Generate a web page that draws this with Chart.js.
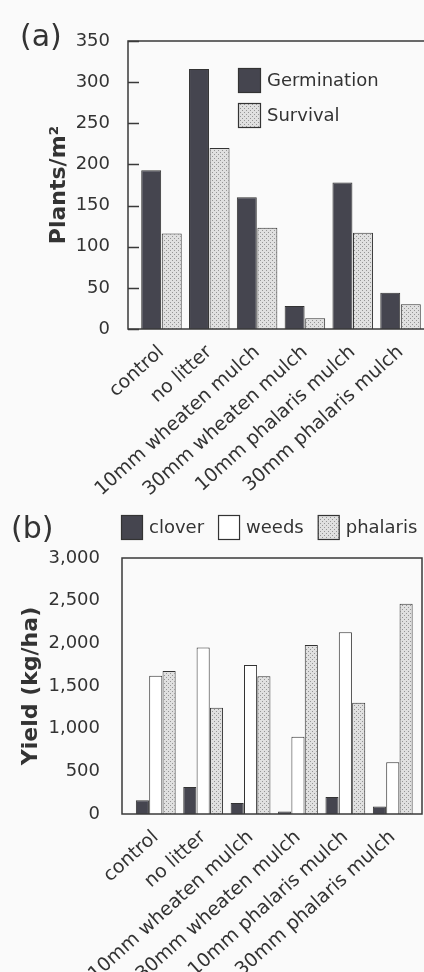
<!DOCTYPE html>
<html>
<head>
<meta charset="utf-8">
<script src="https://cdn.jsdelivr.net/npm/chart.js@4.4.1/dist/chart.umd.min.js"></script>
<style>
  html, body { margin: 0; padding: 0; background: #fafafa; overflow: hidden; width: 424px; height: 972px; }
  canvas { position: absolute; left: 0; }
  #chartA { top: 0; }
  #chartB { top: 495px; }
</style>
</head>
<body>
<canvas id="chartA" width="440" height="495"></canvas>
<canvas id="chartB" width="424" height="477"></canvas>
<script>
// treatments, same order in both panels
var categories = ['control', 'no litter', '10mm wheaten mulch', '30mm wheaten mulch', '10mm phalaris mulch', '30mm phalaris mulch'];

// (a) plants per m2
var germination = [193, 316, 160, 28, 178, 44];
var survival = [116, 220, 123, 13, 117, 30];
var yTicksA = [0, 50, 100, 150, 200, 250, 300, 350];

// (b) yield kg/ha
var clover = [160, 315, 128, 30, 198, 89];
var weeds = [1620, 1950, 1745, 905, 2130, 605];
var phalaris = [1675, 1245, 1615, 1980, 1305, 2465];
var yTicksB = [0, 500, 1000, 1500, 2000, 2500, 3000];

Chart.defaults.font.family = '"DejaVu Sans", sans-serif';
Chart.defaults.color = '#333';

function pts(values) {
  return values.map(function (v, i) { return { x: i, y: v }; });
}

// light grey stipple like the scanned screen tone
function stipple(ctx) {
  var c = document.createElement('canvas');
  c.width = 4; c.height = 4;
  var g = c.getContext('2d');
  g.fillStyle = '#e0e0e0';
  g.fillRect(0, 0, 4, 4);
  g.fillStyle = '#959595';
  g.fillRect(0, 0, 1, 1);
  g.fillRect(2, 2, 1, 1);
  return ctx.createPattern(c, 'repeat');
}

// box round the plot area, optional inward y ticks
var frame = {
  id: 'frame',
  afterDatasetsDraw: function (chart, args, o) {
    var a = chart.chartArea, ctx = chart.ctx;
    ctx.save();
    ctx.strokeStyle = '#3a3a3a';
    ctx.lineWidth = 1.5;
    ctx.strokeRect(a.left, a.top, a.right - a.left, a.bottom - a.top);
    if (o.tick) {
      var ys = chart.scales.y;
      ctx.beginPath();
      ys.ticks.forEach(function (t) {
        var py = Math.round(ys.getPixelForValue(t.value)) + 0.5;
        ctx.moveTo(a.left, py);
        ctx.lineTo(a.left + o.tick, py);
      });
      ctx.stroke();
    }
    ctx.restore();
  }
};

// panel letter + hand placed legend
var decor = {
  id: 'decor',
  afterDraw: function (chart, args, o) {
    var ctx = chart.ctx;
    ctx.save();
    ctx.fillStyle = '#333';
    ctx.font = '30px "DejaVu Sans"';
    ctx.textBaseline = 'alphabetic';
    ctx.fillText(o.tag, o.tagX, o.tagY);

    ctx.font = '18px "DejaVu Sans"';
    ctx.textBaseline = 'middle';
    var x = o.x, y = o.y;
    chart.data.datasets.forEach(function (ds) {
      ctx.fillStyle = ds.backgroundColor;
      ctx.fillRect(x, y, o.w, o.h);
      ctx.strokeStyle = '#333';
      ctx.lineWidth = 1.2;
      ctx.strokeRect(x + 0.5, y + 0.5, o.w - 1, o.h - 1);
      ctx.fillStyle = '#333';
      ctx.fillText(ds.label, x + o.w + 6, y + o.h / 2 + 1);
      if (o.row) x += o.w + 6 + ctx.measureText(ds.label).width + 14;
      else y += o.step;
    });
    ctx.restore();
  }
};

function xScale(min, max, h) {
  return {
    type: 'linear',
    min: min,
    max: max,
    offset: false,
    afterBuildTicks: function (s) {
      s.ticks = categories.map(function (c, i) { return { value: i }; });
    },
    afterFit: function (s) { s.height = h; },
    grid: { display: false },
    border: { display: false },
    ticks: {
      autoSkip: false,
      minRotation: 42,
      maxRotation: 42,
      padding: 4,
      font: { size: 19 },
      callback: function (v) { return categories[v]; }
    }
  };
}

var ctxA = document.getElementById('chartA').getContext('2d');
new Chart(ctxA, {
  type: 'bar',
  data: {
    datasets: [
      { label: 'Germination', data: pts(germination), backgroundColor: '#45454f' },
      { label: 'Survival', data: pts(survival), backgroundColor: stipple(ctxA) }
    ]
  },
  options: {
    responsive: false,
    animation: false,
    layout: { padding: { left: 0, top: 41, right: 6, bottom: 0 } },
    datasets: {
      bar: { categoryPercentage: 0.86, barPercentage: 0.97, borderWidth: 1, borderColor: '#333' }
    },
    plugins: {
      legend: { display: false },
      tooltip: { enabled: false },
      frame: { tick: 11 },
      decor: { tag: '(a)', tagX: 20, tagY: 46, x: 238, y: 68, w: 23, h: 25, step: 35 }
    },
    scales: {
      x: xScale(-0.7, 5.7, 166),
      y: {
        min: 0,
        max: 350,
        afterBuildTicks: function (s) {
          s.ticks = yTicksA.map(function (v) { return { value: v }; });
        },
        afterFit: function (s) { s.width = 128; },
        ticks: { padding: 10, font: { size: 18 } },
        grid: { display: false },
        border: { display: false },
        title: {
          display: true,
          text: 'Plants/m²',
          font: { size: 22, weight: 'bold' },
          padding: { top: 46 }
        }
      }
    }
  },
  plugins: [frame, decor]
});

var ctxB = document.getElementById('chartB').getContext('2d');
new Chart(ctxB, {
  type: 'bar',
  data: {
    datasets: [
      { label: 'clover', data: pts(clover), backgroundColor: '#45454f' },
      { label: 'weeds', data: pts(weeds), backgroundColor: '#ffffff' },
      { label: 'phalaris', data: pts(phalaris), backgroundColor: stipple(ctxB) }
    ]
  },
  options: {
    responsive: false,
    animation: false,
    layout: { padding: { left: 0, top: 63, right: 2, bottom: 0 } },
    datasets: {
      bar: { categoryPercentage: 0.845, barPercentage: 0.98, borderWidth: 1, borderColor: '#333' }
    },
    plugins: {
      legend: { display: false },
      tooltip: { enabled: false },
      frame: { tick: 0 },
      decor: { tag: '(b)', tagX: 11, tagY: 43, x: 121, y: 20, w: 22, h: 25, row: true }
    },
    scales: {
      x: xScale(-0.712, 5.617, 158),
      y: {
        min: 0,
        max: 3000,
        afterBuildTicks: function (s) {
          s.ticks = yTicksB.map(function (v) { return { value: v }; });
        },
        afterFit: function (s) { s.width = 122; },
        ticks: { padding: 14, font: { size: 18 } },
        grid: { display: false },
        border: { display: false },
        title: {
          display: true,
          text: 'Yield (kg/ha)',
          font: { size: 22, weight: 'bold' },
          padding: { top: 18 }
        }
      }
    }
  },
  plugins: [frame, decor]
});
</script>
</body>
</html>
